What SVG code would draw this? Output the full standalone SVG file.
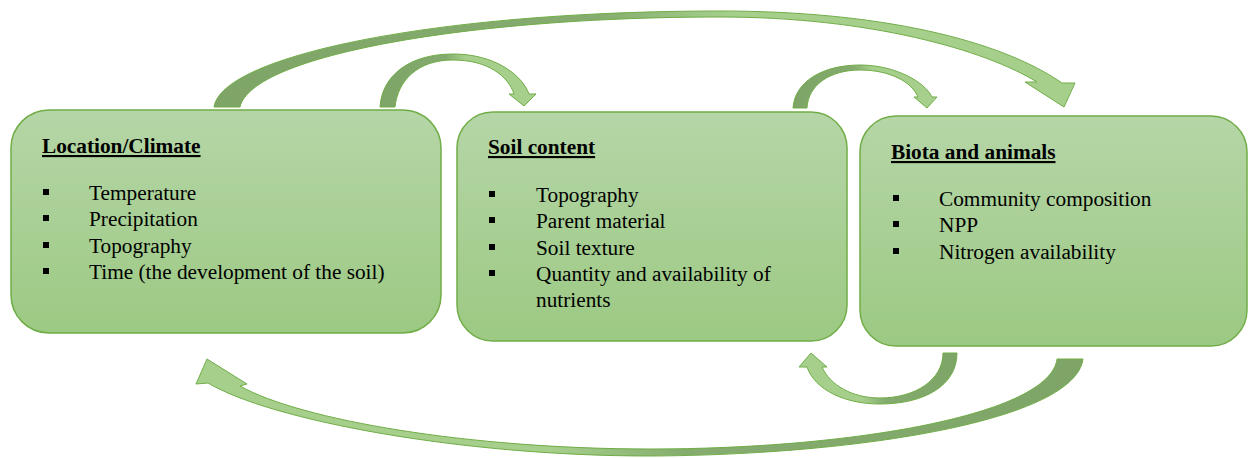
<svg xmlns="http://www.w3.org/2000/svg" width="1248" height="458" viewBox="0 0 1248 458">
<defs>
<linearGradient id="boxg" x1="0" y1="0" x2="0" y2="1">
<stop offset="0" stop-color="#b5d6a7"/>
<stop offset="1" stop-color="#9cc983"/>
</linearGradient>
<linearGradient id="gTop" gradientUnits="userSpaceOnUse" x1="214" y1="0" x2="1075" y2="0">
<stop offset="0" stop-color="#7ea468"/>
<stop offset="0.45" stop-color="#86ad6f"/>
<stop offset="0.6" stop-color="#a6cf8c"/>
<stop offset="1" stop-color="#a6cf8c"/>
</linearGradient>
<linearGradient id="gS1" gradientUnits="userSpaceOnUse" x1="380" y1="0" x2="536" y2="0">
<stop offset="0" stop-color="#7ea468"/>
<stop offset="0.42" stop-color="#84ab6d"/>
<stop offset="0.55" stop-color="#a6cf8c"/>
<stop offset="1" stop-color="#a6cf8c"/>
</linearGradient>
<linearGradient id="gS2" gradientUnits="userSpaceOnUse" x1="793" y1="0" x2="937" y2="0">
<stop offset="0" stop-color="#7ea468"/>
<stop offset="0.42" stop-color="#84ab6d"/>
<stop offset="0.55" stop-color="#a6cf8c"/>
<stop offset="1" stop-color="#a6cf8c"/>
</linearGradient>
<linearGradient id="gS3" gradientUnits="userSpaceOnUse" x1="957" y1="0" x2="799" y2="0">
<stop offset="0" stop-color="#7ea468"/>
<stop offset="0.45" stop-color="#84ab6d"/>
<stop offset="0.6" stop-color="#a6cf8c"/>
<stop offset="1" stop-color="#a6cf8c"/>
</linearGradient>
<linearGradient id="gBot" gradientUnits="userSpaceOnUse" x1="1083" y1="0" x2="196" y2="0">
<stop offset="0" stop-color="#7ea468"/>
<stop offset="0.45" stop-color="#86ad6f"/>
<stop offset="0.6" stop-color="#a6cf8c"/>
<stop offset="1" stop-color="#a6cf8c"/>
</linearGradient>
</defs>
<style>
.box{fill:url(#boxg);stroke:#70ad47;stroke-width:1.5}
.arr{stroke:#70ad47;stroke-width:1;stroke-linejoin:miter}
text{font-family:"Liberation Serif","Times New Roman",serif;font-size:21.3px;fill:#000}
.h{font-weight:bold;text-decoration:underline}
.b{fill:#000}
</style>
<g id="connectors">
<path class="arr" fill="url(#gTop)" d="M214,107 C222,55 440,11 720,11 C880,11 1000,40 1062,83 L1075,83 L1064,107 L1025,82 L1037,82 C985,50 870,17 720,17 C470,17 252,55 240,107 Z"/>
<path class="arr" fill="url(#gS1)" d="M380,107 C382,75 410,54 453,54 C495,54 522,75 529,94 L536,94 L524,106 L509,94 L514,94 C508,76 488,60 453,60 C418,60 398,80 395,107 Z"/>
<path class="arr" fill="url(#gS2)" d="M793,108 C795,80 825,65 860,65 C895,65 925,82 932,97 L937,97 L927,108 L914,97 L918,97 C912,82 890,70 860,70 C830,70 808,85 807,108 Z"/>
<path class="arr" fill="url(#gS3)" d="M957,353 C957,385 925,404 880,404 C845,404 815,390 807,367 L799,367 L811,353 L827,367 L822,367 C830,385 852,398 880,398 C915,398 943,380 943,353 Z"/>
<path class="arr" fill="url(#gBot)" d="M1083,359 C1075,420 860,455 650,456 C460,456 270,420 208,383 L196,384 L207,359 L247,384 L240,386 C300,420 470,449 650,449 C850,449 1050,415 1057,359 Z"/>
</g>
<g id="node-location">
<rect class="box" x="11" y="110" width="430" height="223" rx="38"/>
<text class="h" x="42" y="153">Location/Climate</text>
<rect class="b" x="43" y="189" width="6" height="6"/>
<rect class="b" x="43" y="215" width="6" height="6"/>
<rect class="b" x="43" y="242" width="6" height="6"/>
<rect class="b" x="43" y="268" width="6" height="6"/>
<text x="89" y="200">Temperature</text>
<text x="89" y="226">Precipitation</text>
<text x="89" y="253">Topography</text>
<text x="89" y="279">Time (the development of the soil)</text>
</g>
<g id="node-soil">
<rect class="box" x="457" y="112" width="390" height="229" rx="36"/>
<text class="h" x="488" y="154">Soil content</text>
<rect class="b" x="489" y="191" width="6" height="6"/>
<rect class="b" x="489" y="217" width="6" height="6"/>
<rect class="b" x="489" y="244" width="6" height="6"/>
<rect class="b" x="489" y="270" width="6" height="6"/>
<text x="536" y="202">Topography</text>
<text x="536" y="228">Parent material</text>
<text x="536" y="255">Soil texture</text>
<text x="536" y="281">Quantity and availability of</text>
<text x="536" y="307">nutrients</text>
</g>
<g id="node-biota">
<rect class="box" x="860" y="116" width="387" height="230" rx="36"/>
<text class="h" x="891" y="159">Biota and animals</text>
<rect class="b" x="893" y="195" width="6" height="6"/>
<rect class="b" x="893" y="221" width="6" height="6"/>
<rect class="b" x="893" y="248" width="6" height="6"/>
<text x="939" y="206">Community composition</text>
<text x="939" y="232">NPP</text>
<text x="939" y="259">Nitrogen availability</text>
</g>
</svg>
